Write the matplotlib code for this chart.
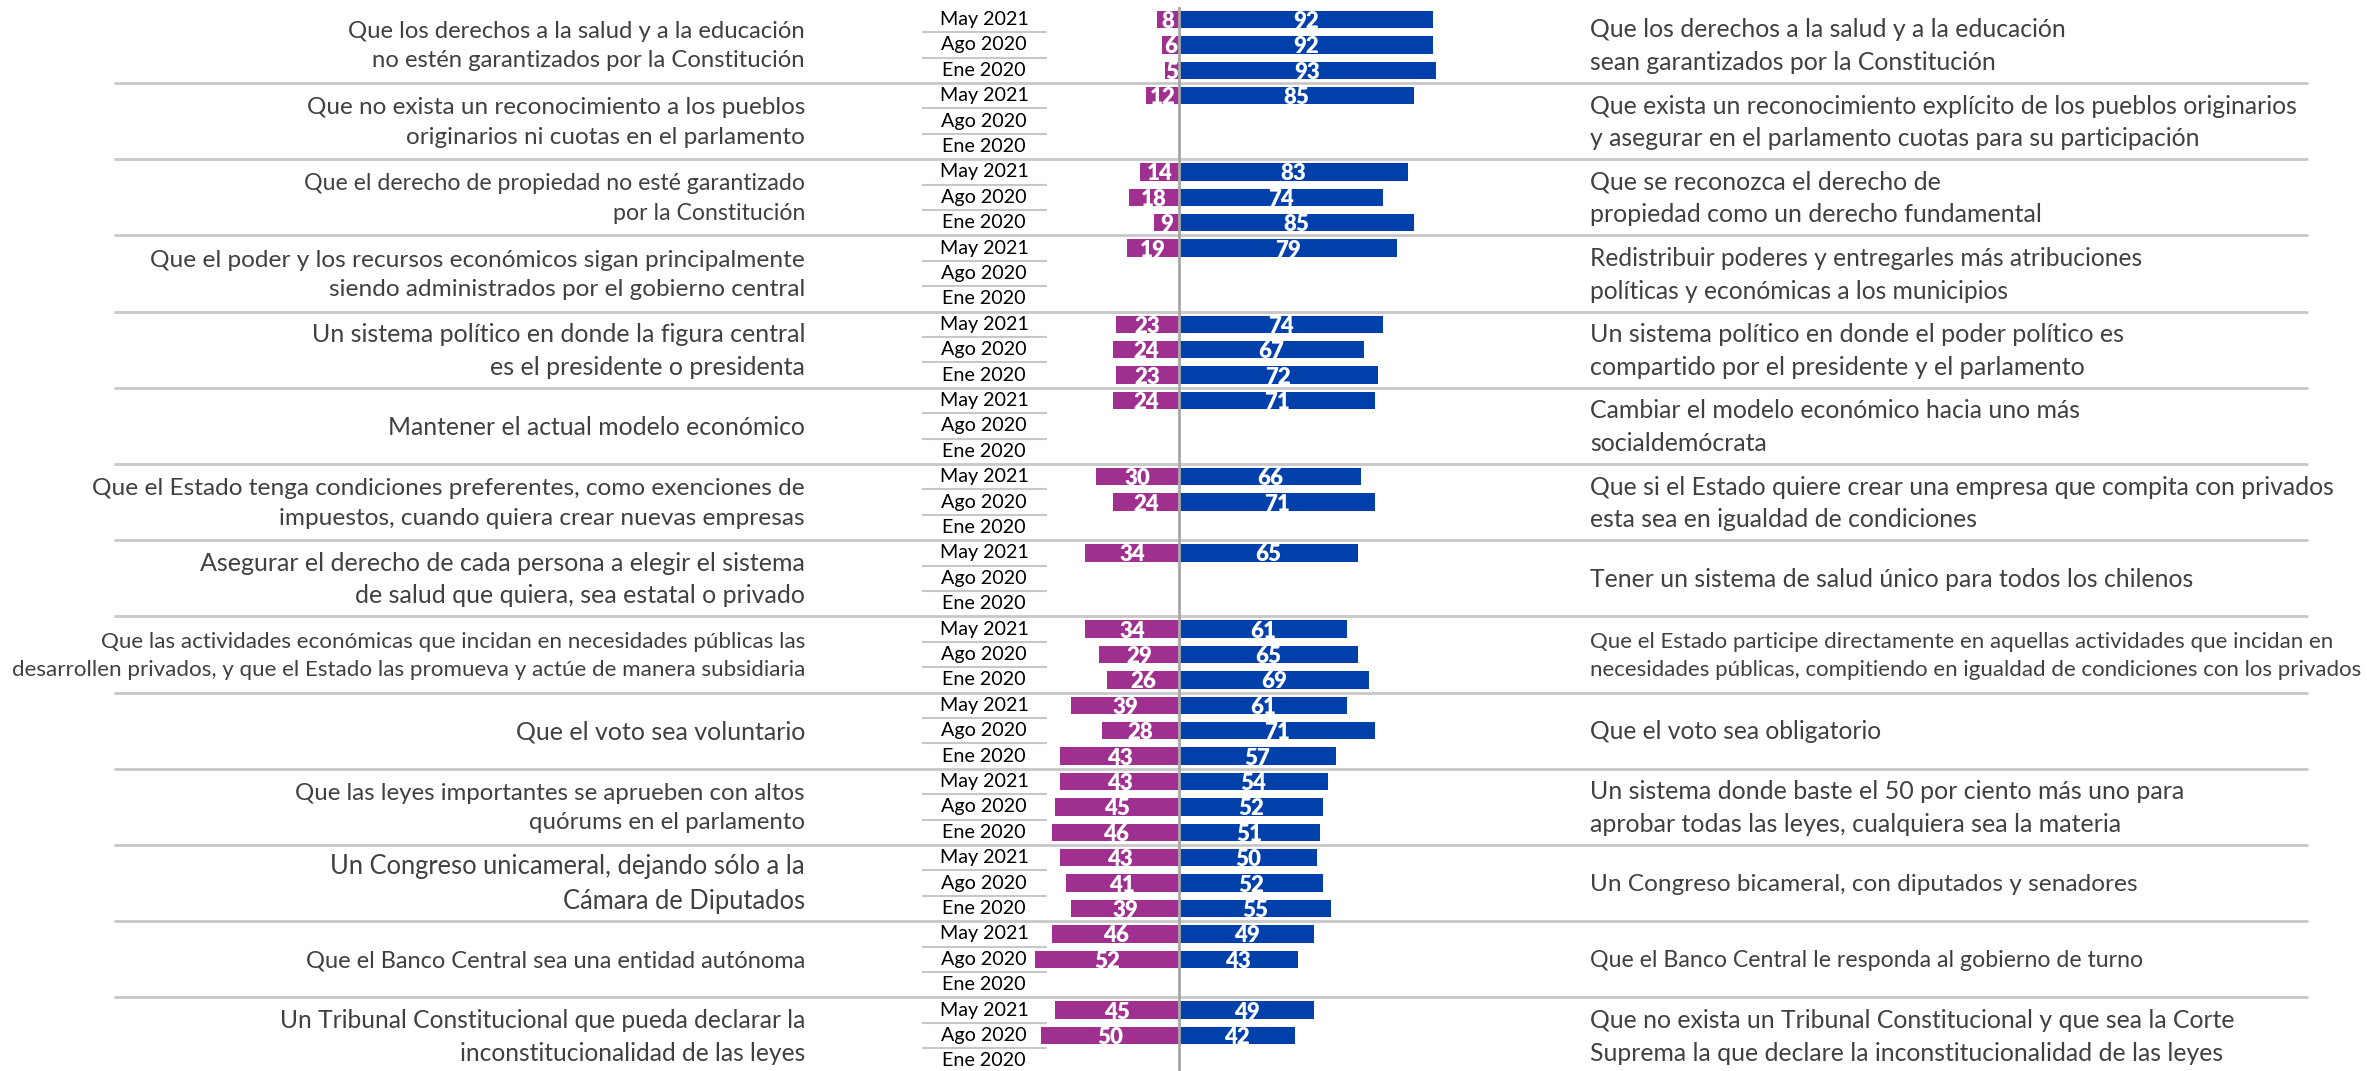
import matplotlib
matplotlib.use("Agg")
import matplotlib.pyplot as plt
from matplotlib.patches import Circle
import numpy as np

plt.rcParams['font.family'] = ['Lato', 'DejaVu Sans']

periods = ["May 2021", "Ago 2020", "Ene 2020"]

left_labels = [
    "Que los derechos a la salud y a la educación\nno estén garantizados por la Constitución",
    "Que no exista un reconocimiento a los pueblos\noriginarios ni cuotas en el parlamento",
    "Que el derecho de propiedad no esté garantizado\npor la Constitución",
    "Que el poder y los recursos económicos sigan principalmente\nsiendo administrados por el gobierno central",
    "Un sistema político en donde la figura central\nes el presidente o presidenta",
    "Mantener el actual modelo económico",
    "Que el Estado tenga condiciones preferentes, como exenciones de\nimpuestos, cuando quiera crear nuevas empresas",
    "Asegurar el derecho de cada persona a elegir el sistema\nde salud que quiera, sea estatal o privado",
    "Que las actividades económicas que incidan en necesidades públicas las\ndesarrollen privados, y que el Estado las promueva y actúe de manera subsidiaria",
    "Que el voto sea voluntario",
    "Que las leyes importantes se aprueben con altos\nquórums en el parlamento",
    "Un Congreso unicameral, dejando sólo a la\nCámara de Diputados",
    "Que el Banco Central sea una entidad autónoma",
    "Un Tribunal Constitucional que pueda declarar la\ninconstitucionalidad de las leyes",
]

right_labels = [
    "Que los derechos a la salud y a la educación\nsean garantizados por la Constitución",
    "Que exista un reconocimiento explícito de los pueblos originarios\ny asegurar en el parlamento cuotas para su participación",
    "Que se reconozca el derecho de\npropiedad como un derecho fundamental",
    "Redistribuir poderes y entregarles más atribuciones\npolíticas y económicas a los municipios",
    "Un sistema político en donde el poder político es\ncompartido por el presidente y el parlamento",
    "Cambiar el modelo económico hacia uno más\nsocialdemócrata",
    "Que si el Estado quiere crear una empresa que compita con privados\nesta sea en igualdad de condiciones",
    "Tener un sistema de salud único para todos los chilenos",
    "Que el Estado participe directamente en aquellas actividades que incidan en\nnecesidades públicas, compitiendo en igualdad de condiciones con los privados",
    "Que el voto sea obligatorio",
    "Un sistema donde baste el 50 por ciento más uno para\naprobar todas las leyes, cualquiera sea la materia",
    "Un Congreso bicameral, con diputados y senadores",
    "Que el Banco Central le responda al gobierno de turno",
    "Que no exista un Tribunal Constitucional y que sea la Corte\nSuprema la que declare la inconstitucionalidad de las leyes",
]

# values per group: [May 2021, Ago 2020, Ene 2020]; None = no data
left_values = [
    [8, 6, 5], [12, None, None], [14, 18, 9], [19, None, None],
    [23, 24, 23], [24, None, None], [30, 24, None], [34, None, None],
    [34, 29, 26], [39, 28, 43], [43, 45, 46], [43, 41, 39],
    [46, 52, None], [45, 50, None],
]
right_values = [
    [92, 92, 93], [85, None, None], [83, 74, 85], [79, None, None],
    [74, 67, 72], [71, None, None], [66, 71, None], [65, None, None],
    [61, 65, 69], [61, 71, 57], [54, 52, 51], [50, 52, 55],
    [49, 43, None], [49, 42, None],
]

# text sizes per group (style)
left_fs = [17.2, 17.5, 16.7, 17.6, 18.0, 17.8, 17.6, 18.0, 16.1, 18.0, 17.3, 18.4, 17.05, 17.7]
right_fs = [17.8, 17.8, 18.0, 17.7, 18.1, 17.9, 17.8, 17.8, 16.0, 17.7, 18.0, 17.6, 16.7, 17.8]

MAGENTA = "#A0308F"
BLUE = "#0040AA"
TXT = "#404040"
SEP = "#C8C8C8"

W, H = 2367, 1071
fig = plt.figure(figsize=(W / 100, H / 100), dpi=100)
ax = fig.add_axes([0, 0, 1, 1])

# pixel -> data mapping
cx = 1179.0
ppu = 2.76
y0 = 19.5
pitch = 25.4
ax.set_xlim((0 - cx) / ppu, (W - cx) / ppu)
ax.set_ylim((H - y0) / pitch, (0 - y0) / pitch)
ax.axis("off")

def px(x):
    return (x - cx) / ppu

n_groups = len(left_labels)
bh = 0.68
for g in range(n_groups):
    for k in range(3):
        row = 3 * g + k
        lv = left_values[g][k]
        rv = right_values[g][k]
        if lv is not None:
            ax.barh(row, -lv, height=bh, color=MAGENTA, zorder=3)
            ax.text(-lv / 2, row + 0.08, str(lv), color="white", fontsize=16,
                    fontweight="heavy", ha="center", va="center", zorder=4)
        if rv is not None:
            ax.barh(row, rv, height=bh, color=BLUE, zorder=3)
            ax.text(rv / 2, row + 0.08, str(rv), color="white", fontsize=16,
                    fontweight="heavy", ha="center", va="center", zorder=4)
        ax.text(px(984), row, periods[k], color="black", fontsize=14.2,
                ha="center", va="center")
        if k < 2:
            ax.plot([px(922), px(1047)], [row + 0.5, row + 0.5], color=SEP,
                    lw=1.5, zorder=1, solid_capstyle="butt")
    # group labels
    yc = 3 * g + 1
    ax.text(px(805), yc + 0.05, left_labels[g], color=TXT, fontsize=left_fs[g],
            ha="right", va="center", linespacing=1.5)
    ax.text(px(1590), yc + 0.05, right_labels[g], color=TXT, fontsize=right_fs[g],
            ha="left", va="center", linespacing=1.5)
    if g < n_groups - 1:
        ax.plot([px(114), px(2308)], [3 * g + 2.5, 3 * g + 2.5], color=SEP,
                lw=2, zorder=1, solid_capstyle="butt")

ax.plot([0, 0], [(8 - y0) / pitch, (H - y0) / pitch], color="#A6A6A6", lw=2, zorder=5)

# partially visible logo at the bottom edge
logo = Circle((2045 / W, 1 - 1078 / H), 14 / W, transform=fig.transFigure,
              color="#1F5FA8", zorder=6)
fig.patches.append(logo)

fig.savefig("out.png", dpi=100)
